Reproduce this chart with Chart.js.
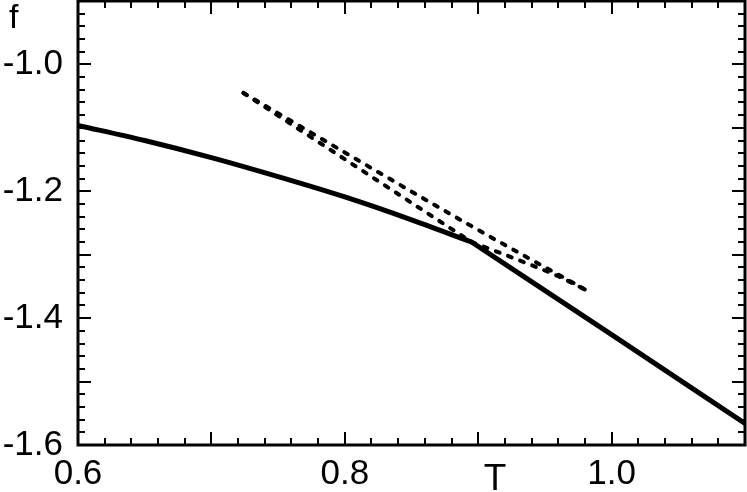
<!DOCTYPE html>
<html>
<head>
<meta charset="utf-8">
<script src="https://cdn.jsdelivr.net/npm/chart.js@4/dist/chart.umd.min.js"></script>
<style>
html,body{margin:0;padding:0;background:#fff;}
#wrap{width:747px;height:492px;}
</style>
</head>
<body>
<div id="wrap"><canvas id="chart" width="747" height="492"></canvas></div>
<script>

/* ================= DATA ================= */

// low-T branch (solid)
let lowT = [0.6, 0.65, 0.7, 0.75, 0.8, 0.85, 0.895];
let lowF = [-1.096, -1.120, -1.147, -1.177, -1.209, -1.245, -1.280];

// high-T branch (solid)
let highT = [0.895, 1.0, 1.1];
let highF = [-1.280, -1.426, -1.566];

// dashed: high-T branch continued below the transition
let dashBT = [0.724, 0.895];
let dashBF = [-1.045, -1.280];

// dashed: upper straight line
let dashAT = [0.724, 0.895, 0.982];
let dashAF = [-1.045, -1.255, -1.357];

// dashed: low-T branch continued above the transition
let dashCT = [0.895, 0.915, 0.937, 0.96, 0.982];
let dashCF = [-1.280, -1.296, -1.314, -1.334, -1.357];

let xTickValues = [0.6, 0.8, 1.0];
let xTickLabels = ["0.6", "0.8", "1.0"];
let yTickValues = [-1.0, -1.2, -1.4, -1.6];
let yTickLabels = ["-1.0", "-1.2", "-1.4", "-1.6"];

/* ================= HELPERS ================= */

function pts(xs, ys){
return xs.map((x,i)=>({x:x, y:ys[i]}));
}

function solid(xs, ys){
return {data:pts(xs,ys), borderColor:"#000", borderWidth:5, pointRadius:0, fill:false, cubicInterpolationMode:"monotone", borderCapStyle:"round", borderJoinStyle:"round"};
}

function dashed(xs, ys){
return {data:pts(xs,ys), borderColor:"#000", borderWidth:4, borderDash:[4,9], borderCapStyle:"round", pointRadius:0, fill:false, cubicInterpolationMode:"monotone"};
}

/* ================= FRAME, TICKS, LABELS ================= */

let framePlugin = {
id:"frame",
afterDraw(chart){
let ctx = chart.ctx;
let a = chart.chartArea;
let xs = chart.scales.x;
let ys = chart.scales.y;

ctx.save();
ctx.strokeStyle = "#000";
ctx.fillStyle = "#000";

// ticks, pointing inward on all four sides
ctx.lineWidth = 2;
ctx.beginPath();
for(let i=0;i<=25;i++){
let v = 0.6 + i*0.02;
let px = Math.round(xs.getPixelForValue(v));
let len = (i%5===0) ? 13 : 7;
ctx.moveTo(px, a.bottom); ctx.lineTo(px, a.bottom-len);
ctx.moveTo(px, a.top); ctx.lineTo(px, a.top+len);
}
for(let i=0;i<=35;i++){
let v = -1.6 + i*0.02;
let py = Math.round(ys.getPixelForValue(v));
let len = (i%5===0) ? 13 : 7;
ctx.moveTo(a.left, py); ctx.lineTo(a.left+len, py);
ctx.moveTo(a.right, py); ctx.lineTo(a.right-len, py);
}
ctx.stroke();

// box
ctx.lineWidth = 3;
ctx.strokeRect(a.left, a.top, a.right-a.left, a.bottom-a.top);

// tick labels
ctx.font = "35px 'Liberation Sans', Arial, sans-serif";
ctx.textBaseline = "alphabetic";
ctx.textAlign = "center";
xTickValues.forEach((v,i)=>{
ctx.fillText(xTickLabels[i], xs.getPixelForValue(v), 484);
});
ctx.textAlign = "right";
yTickValues.forEach((v,i)=>{
ctx.fillText(yTickLabels[i], 63, ys.getPixelForValue(v)+10);
});

// axis titles
ctx.font = "37px 'Liberation Sans', Arial, sans-serif";
ctx.textAlign = "center";
ctx.fillText("T", 495, 490);
ctx.font = "34px 'Liberation Sans', Arial, sans-serif";
ctx.textAlign = "left";
ctx.fillText("f", 9, 28);

ctx.restore();
}
};

/* ================= CHART ================= */

new Chart(document.getElementById("chart"),{
type:"line",
data:{
datasets:[
solid(lowT,lowF),
solid(highT,highF),
dashed(dashBT,dashBF),
dashed(dashAT,dashAF),
dashed(dashCT,dashCF)
]
},
options:{
responsive:false,
animation:false,
layout:{padding:{left:78, right:2, top:1, bottom:47}},
plugins:{legend:{display:false}, tooltip:{enabled:false}},
scales:{
x:{type:"linear", min:0.6, max:1.1, display:false},
y:{type:"linear", min:-1.6, max:-0.9, display:false}
}
},
plugins:[framePlugin]
});

</script>
</body>
</html>
